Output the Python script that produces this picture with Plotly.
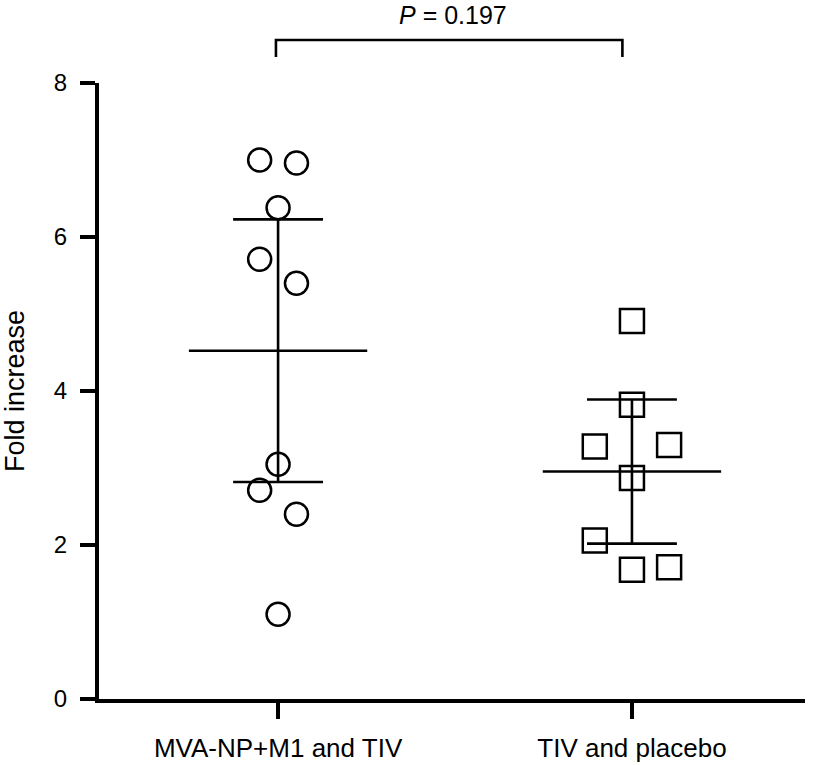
import numpy as np
import plotly.graph_objects as go

categories = ["MVA-NP+M1 and TIV", "TIV and placebo"]
group1_values = [7.00, 6.96, 6.38, 5.71, 5.40, 3.05, 2.71, 2.40, 1.10]
group2_values = [4.91, 3.82, 3.28, 3.30, 2.87, 2.06, 1.68, 1.71]
y_ticks = [0, 2, 4, 6, 8]
p_label = "<i>P</i> = 0.197"

# horizontal scatter offsets of the points (layout only)
group1_offsets = [-0.052, 0.052, 0, -0.052, 0.052, 0, -0.052, 0.052, 0]
group2_offsets = [0, 0, -0.105, 0.105, 0, -0.105, 0, 0.105]

# two-sided 95% t critical values by degrees of freedom
T95 = {7: 2.365, 8: 2.306}

FONT = "Liberation Sans, Arial, Helvetica, sans-serif"

fig = go.Figure()

groups = [(group1_values, group1_offsets, "circle-open", 23),
          (group2_values, group2_offsets, "square-open", 24)]
lw = 2.6
for i, (vals, offs, sym, msize) in enumerate(groups):
    xs = [i + o for o in offs]
    fig.add_trace(go.Scatter(
        x=xs, y=vals, mode="markers",
        marker=dict(symbol=sym, size=msize, color="black",
                    line=dict(width=2.5, color="black")),
        showlegend=False, cliponaxis=False, hoverinfo="y"))
    n = len(vals)
    m = float(np.mean(vals))
    ci = T95[n - 1] * float(np.std(vals, ddof=1)) / np.sqrt(n)
    # mean line
    fig.add_trace(go.Scatter(x=[i - 0.252, i + 0.252], y=[m, m], mode="lines",
                             line=dict(color="black", width=lw), showlegend=False, hoverinfo="skip"))
    # 95% CI whiskers
    fig.add_trace(go.Scatter(x=[i, i], y=[m - ci, m + ci], mode="lines",
                             line=dict(color="black", width=lw), showlegend=False, hoverinfo="skip"))
    for v in (m - ci, m + ci):
        fig.add_trace(go.Scatter(x=[i - 0.127, i + 0.127], y=[v, v], mode="lines",
                                 line=dict(color="black", width=lw), showlegend=False, hoverinfo="skip"))

# significance bracket
fig.add_shape(type="path", xref="x", yref="paper",
              path="M -0.006,1.0422 L -0.006,1.0698 L 0.973,1.0698 L 0.973,1.0422",
              line=dict(color="black", width=2.6))
fig.add_annotation(x=0.494, xref="x", y=1.110, yref="paper", text=p_label,
                   showarrow=False, yanchor="middle",
                   font=dict(family=FONT, size=25, color="black"))

fig.update_layout(
    width=814, height=765,
    margin=dict(l=99, r=9, t=83, b=66),
    plot_bgcolor="white", paper_bgcolor="white",
    font=dict(family=FONT, size=26, color="black"),
    showlegend=False,
)
fig.update_xaxes(
    range=[-0.506, 1.489], tickvals=[0, 1], ticktext=categories,
    showgrid=False, zeroline=False, showline=True, linewidth=4, linecolor="black",
    ticks="outside", ticklen=16, tickwidth=4, tickcolor="black",
    tickfont=dict(family=FONT, size=26, color="black"), ticklabelstandoff=7,
    automargin=False,
)
fig.update_yaxes(
    range=[0, 8], tickvals=y_ticks, showgrid=False, zeroline=False,
    showline=True, linewidth=4, linecolor="black",
    ticks="outside", ticklen=15, tickwidth=4, tickcolor="black",
    tickfont=dict(family=FONT, size=24, color="black"), ticklabelstandoff=8,
    title=dict(text="Fold increase", font=dict(family=FONT, size=27, color="black"), standoff=27),
    automargin=False,
)

fig.write_html("out.html",
               config={"displayModeBar": False},
               post_script="document.body.style.margin='0';document.body.style.overflow='hidden';")
